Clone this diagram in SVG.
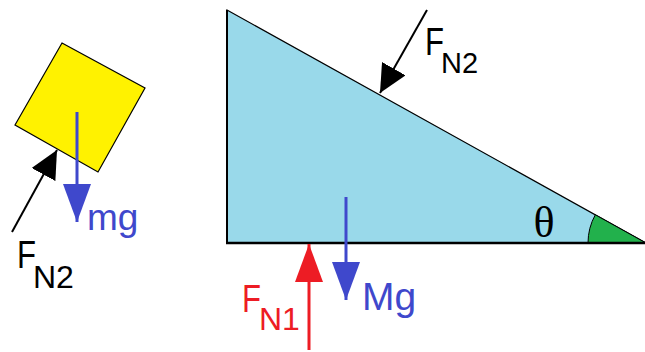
<svg xmlns="http://www.w3.org/2000/svg" width="645" height="352" viewBox="0 0 645 352">
<style>
.lbl{font-family:"Liberation Sans",Arial,sans-serif;}
.blk{fill:#000}
.blu{fill:#3F48CC}
.red{fill:#ED1C24}
.greek{font-family:"Liberation Serif","Times New Roman",serif;fill:#000}
</style>
<defs>
<marker id="hBlack" markerUnits="userSpaceOnUse" markerWidth="30" markerHeight="28" refX="28" refY="13.5" orient="auto"><path d="M0,0 L28,13.5 L0,27 Z" fill="#000"/></marker>
<marker id="hBlue" markerUnits="userSpaceOnUse" markerWidth="40" markerHeight="30" refX="38" refY="14" orient="auto"><path d="M0,0 L38,14 L0,28 Z" fill="#3F48CC"/></marker>
<marker id="hRed" markerUnits="userSpaceOnUse" markerWidth="40" markerHeight="30" refX="38" refY="14" orient="auto"><path d="M0,0 L38,14 L0,28 Z" fill="#ED1C24"/></marker>
</defs>
<rect width="645" height="352" fill="#fff"/>
<g id="wedge">
<polygon points="227,10 646,243 227,243" fill="#99D9EA" stroke="#000" stroke-width="1.2"/>
<path d="M646,243 L588,243 A58,58 0 0,1 595.3,214.8 Z" fill="#22B14C" stroke="#000" stroke-width="1"/>
<line x1="226" y1="243" x2="645" y2="243" stroke="#000" stroke-width="2.5"/>
<line x1="227" y1="10" x2="227" y2="244" stroke="#000" stroke-width="2"/>
<text class="greek" x="544" y="237" font-size="44" text-anchor="middle">θ</text>
</g>
<g id="block">
<polygon points="62,43 145,88 98,172 15,125" fill="#FFF200" stroke="#000" stroke-width="1.2"/>
</g>
<g id="connectors" fill="none">
<line x1="427" y1="10" x2="380" y2="93" stroke="#000" stroke-width="2" marker-end="url(#hBlack)"/>
<line x1="12" y1="232" x2="57" y2="150" stroke="#000" stroke-width="2" marker-end="url(#hBlack)"/>
<line x1="77" y1="112" x2="77" y2="222" stroke="#3F48CC" stroke-width="3" marker-end="url(#hBlue)"/>
<line x1="346" y1="197" x2="346" y2="300" stroke="#3F48CC" stroke-width="3" marker-end="url(#hBlue)"/>
<line x1="309" y1="350" x2="309" y2="244" stroke="#ED1C24" stroke-width="3" marker-end="url(#hRed)"/>
</g>
<g id="labels" class="lbl">
<text class="blk" x="425" y="55" font-size="38" textLength="19" lengthAdjust="spacingAndGlyphs">F</text>
<text class="blk" x="441" y="73" font-size="29">N2</text>
<text class="blk" x="17" y="268" font-size="38" textLength="19" lengthAdjust="spacingAndGlyphs">F</text>
<text class="blk" x="33" y="288" font-size="32">N2</text>
<text class="red" x="242" y="312" font-size="38" textLength="19" lengthAdjust="spacingAndGlyphs">F</text>
<text class="red" x="259" y="330" font-size="32">N1</text>
<text class="blu" x="362" y="310" font-size="39">Mg</text>
<text class="blu" x="87" y="230" font-size="37">mg</text>
</g>
</svg>
